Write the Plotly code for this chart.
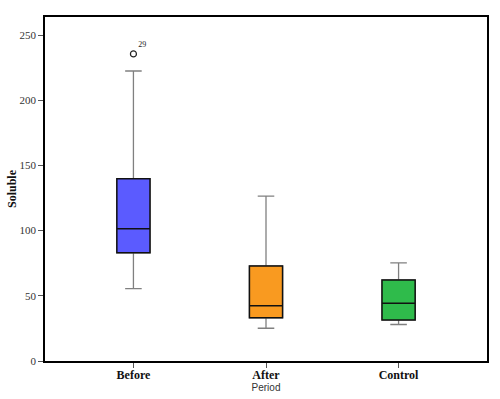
import plotly.graph_objects as go

categories = ["Before", "After", "Control"]
q1 = [83.0, 33.1, 31.5]
medians = [101.5, 42.3, 44.3]
q3 = [139.8, 72.9, 62.2]
lower_whisker = [55.5, 25.1, 28.0]
upper_whisker = [222.4, 126.4, 75.2]
fill_colors = ["#5b5bff", "#f99a20", "#2fbb4b"]
outlier_cat = ["Before"]
outlier_val = [235.5]
outlier_label = ["29"]
y_ticks = [0, 50, 100, 150, 200, 250]

fig = go.Figure()
for i, c in enumerate(categories):
    # whiskers (gray)
    fig.add_trace(go.Box(
        x=[c], q1=[q1[i]], median=[medians[i]], q3=[q3[i]],
        lowerfence=[lower_whisker[i]], upperfence=[upper_whisker[i]],
        fillcolor=fill_colors[i], line=dict(color="#808080", width=1.3),
        width=0.25, whiskerwidth=0.5, boxpoints=False, showlegend=False,
        hoverinfo="skip"))
    # box outline + median (black)
    fig.add_trace(go.Box(
        x=[c], q1=[q1[i]], median=[medians[i]], q3=[q3[i]],
        lowerfence=[q1[i]], upperfence=[q3[i]],
        fillcolor=fill_colors[i], line=dict(color="#111111", width=1.5),
        width=0.25, whiskerwidth=0, boxpoints=False, showlegend=False))

fig.add_trace(go.Scatter(
    x=outlier_cat, y=outlier_val, mode="markers+text",
    marker=dict(symbol="circle-open", size=6, color="#222222", line=dict(width=1.2)),
    text=outlier_label, textposition="top right",
    textfont=dict(family="Liberation Serif", size=8, color="#222222"),
    showlegend=False))

fig.update_layout(
    width=500, height=399,
    margin=dict(l=45, r=13, t=17, b=38, autoexpand=False),
    paper_bgcolor="white", plot_bgcolor="white",
    boxmode="overlay",
    font=dict(family="Liberation Serif", color="#222222"),
    xaxis=dict(
        type="category", categoryorder="array", categoryarray=categories,
        range=[-0.667, 2.667], automargin=False,
        showline=True, linecolor="black", linewidth=1.5, mirror=True,
        ticks="outside", ticklen=5, tickcolor="#555555",
        ticklabelstandoff=-3,
        tickfont=dict(family="Liberation Serif", size=12, color="#111111", weight="bold"),
        title=dict(text="Period", font=dict(family="Liberation Sans", size=10, color="#333333"), standoff=1),
        showgrid=False, zeroline=False),
    yaxis=dict(
        range=[0, 263.8], tickvals=y_ticks, automargin=False,
        showline=True, linecolor="black", linewidth=1.5, mirror=True,
        ticks="outside", ticklen=5, tickcolor="#555555",
        tickfont=dict(family="Liberation Serif", size=11, color="#333333"),
        title=dict(text="Soluble", font=dict(family="Liberation Serif", size=12, color="#111111", weight="bold"), standoff=0),
        showgrid=False, zeroline=False),
)

fig.write_html("out.html", config={"displayModeBar": False},
               post_script="document.body.style.margin='0';document.body.style.overflow='hidden';")
